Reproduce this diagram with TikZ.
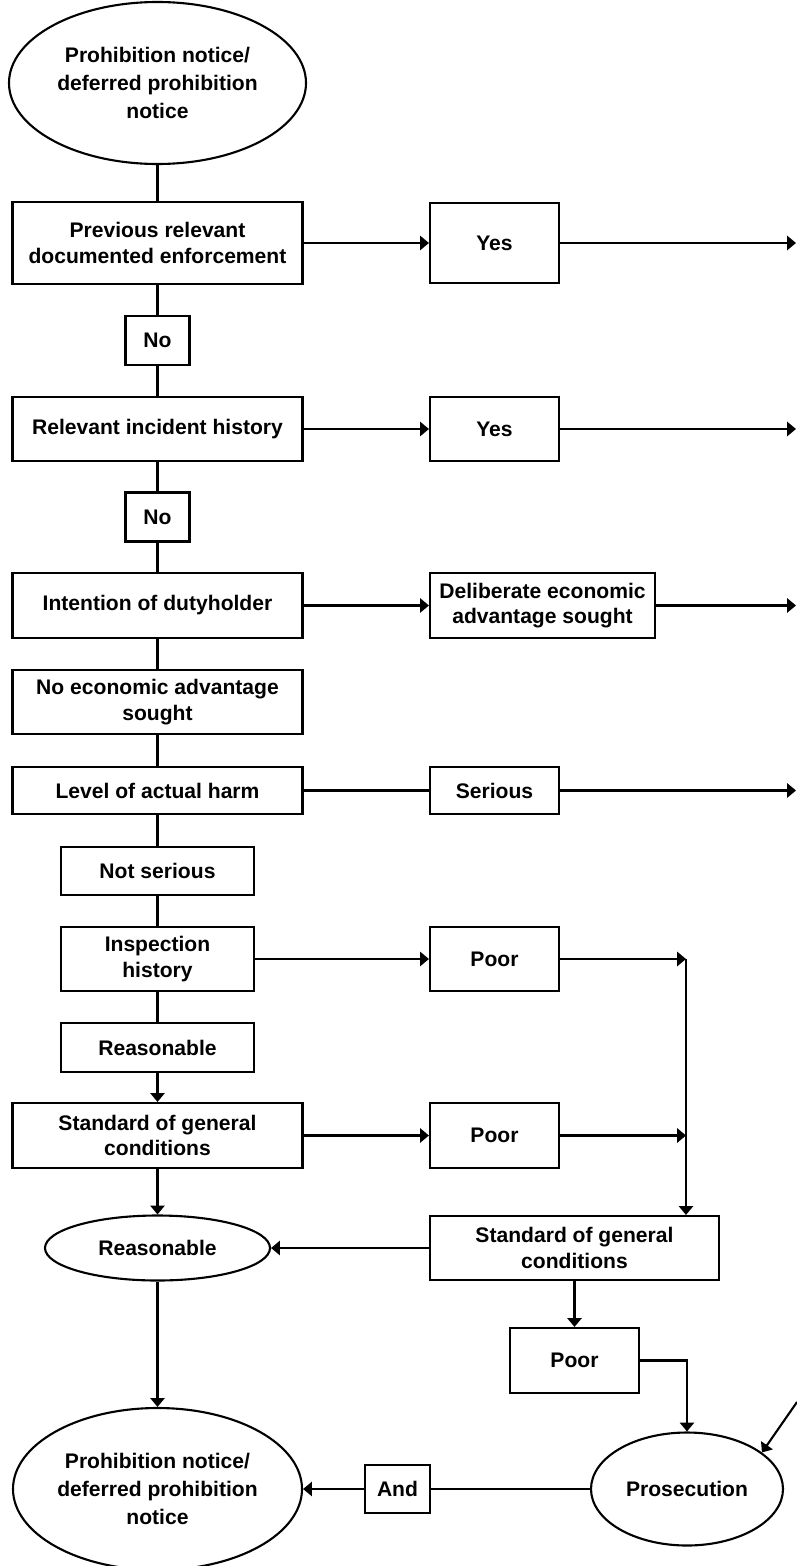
\documentclass[tikz,border=0pt]{standalone}
\usepackage{fontspec}
\setmainfont{Liberation Sans}
\usetikzlibrary{arrows.meta,positioning,shapes.geometric}
\tikzstyle{every node} = [font=\fontsize{12}{14.5}\selectfont\bfseries, align=center]
\tikzstyle{box} = [draw, rectangle, line width=1.2pt, inner sep=1pt]
\tikzstyle{oval} = [draw, ellipse, line width=1.2pt, inner sep=1pt, font=\fontsize{12}{16}\selectfont\bfseries]
\tikzstyle{link} = [line width=1.2pt, >={Triangle[width=8pt,length=5pt]}]

\begin{document}
\begin{tikzpicture}
        \useasboundingbox (0,0) rectangle (15.94,-31.32);
        % main column
        \node[oval, minimum width=5.94cm, minimum height=3.24cm] (start) at (3.15,-1.66) {Prohibition notice/\\deferred prohibition\\notice};
        \node[box, minimum width=5.8cm, minimum height=1.64cm] (prev) at (3.15,-4.86) {Previous relevant\\documented enforcement};
        \node[box, minimum width=1.28cm, minimum height=0.98cm] (noa) at (3.15,-6.81) {No};
        \node[box, minimum width=5.8cm, minimum height=1.28cm] (relev) at (3.15,-8.58) {Relevant incident history};
        \node[box, minimum width=1.28cm, minimum height=0.98cm] (nob) at (3.15,-10.34) {No};
        \node[box, minimum width=5.8cm, minimum height=1.3cm] (intent) at (3.15,-12.11) {Intention of dutyholder};
        \node[box, minimum width=5.8cm, minimum height=1.28cm] (noecon) at (3.15,-14.04) {No economic advantage\\sought};
        \node[box, minimum width=5.8cm, minimum height=0.94cm] (level) at (3.15,-15.81) {Level of actual harm};
        \node[box, minimum width=3.86cm, minimum height=0.96cm] (notser) at (3.15,-17.42) {Not serious};
        \node[box, minimum width=3.86cm, minimum height=1.28cm] (insp) at (3.15,-19.18) {Inspection\\history};
        \node[box, minimum width=3.86cm, minimum height=0.98cm] (reasa) at (3.15,-20.95) {Reasonable};
        \node[box, minimum width=5.8cm, minimum height=1.3cm] (stda) at (3.15,-22.71) {Standard of general\\conditions};
        \node[oval, minimum width=4.5cm, minimum height=1.3cm] (reasb) at (3.15,-24.96) {Reasonable};
        \node[oval, minimum width=5.78cm, minimum height=3.24cm] (final) at (3.15,-29.78) {Prohibition notice/\\deferred prohibition\\notice};

        % right column
        \node[box, minimum width=2.58cm, minimum height=1.6cm] (yesa) at (9.89,-4.86) {Yes};
        \node[box, minimum width=2.58cm, minimum height=1.28cm] (yesb) at (9.89,-8.58) {Yes};
        \node[box, minimum width=4.5cm, minimum height=1.3cm] (delib) at (10.85,-12.11) {Deliberate economic\\advantage sought};
        \node[box, minimum width=2.58cm, minimum height=0.94cm] (serious) at (9.89,-15.81) {Serious};
        \node[box, minimum width=2.58cm, minimum height=1.28cm] (poora) at (9.89,-19.18) {Poor};
        \node[box, minimum width=2.58cm, minimum height=1.3cm] (poorb) at (9.89,-22.71) {Poor};
        \node[box, minimum width=5.78cm, minimum height=1.28cm] (stdb) at (11.49,-24.96) {Standard of general\\conditions};
        \node[box, minimum width=2.58cm, minimum height=1.3cm] (poorc) at (11.49,-27.21) {Poor};
        \node[oval, minimum width=3.84cm, minimum height=2.26cm] (pros) at (13.74,-29.78) {Prosecution};
        \node[box, minimum width=1.3cm, minimum height=0.96cm] (and) at (7.95,-29.78) {And};

        % loose ends
        \coordinate (enda) at (15.92,-4.86);
        \coordinate (endb) at (15.92,-8.58);
        \coordinate (endc) at (15.92,-12.11);
        \coordinate (endd) at (15.92,-15.81);
        \coordinate (joina) at (13.72,-19.18);
        \coordinate (joinb) at (13.72,-22.71);
        \coordinate (corner) at (15.94,-28.04);

        \draw[link] (start) -- (prev) -- (noa) -- (relev) -- (nob) -- (intent) -- (noecon) -- (level) -- (notser) -- (insp) -- (reasa);
        \draw[link,->] (reasa) -- (stda);
        \draw[link,->] (stda) -- (reasb);
        \draw[link,->] (reasb) -- (final);

        \draw[link,->] (prev) -- (yesa);
        \draw[link,->] (yesa) -- (enda);
        \draw[link,->] (relev) -- (yesb);
        \draw[link,->] (yesb) -- (endb);
        \draw[link,->] (intent.east) -- (intent.east -| delib.west);
        \draw[link,->] (delib.east |- intent.east) -- (endc);
        \draw[link] (level) -- (serious);
        \draw[link,->] (serious) -- (endd);
        \draw[link,->] (insp) -- (poora);
        \draw[link,->] (poora) -- (joina);
        \draw[link,->] (stda) -- (poorb);
        \draw[link,->] (poorb) -- (joinb);
        \draw[link,->] (joina) -- (joina |- stdb.north);
        \draw[link,->] (stdb.west) -- (reasb.east);
        \draw[link,->] (stdb.south -| poorc) -- (poorc);
        \draw[link,->] (poorc.east) -| (pros.north);
        \draw[link] (pros) -- (and);
        \draw[link,->] (and) -- (final);
        \draw[link,->] (corner) -- (pros.26);

    \end{tikzpicture}
\end{document}
